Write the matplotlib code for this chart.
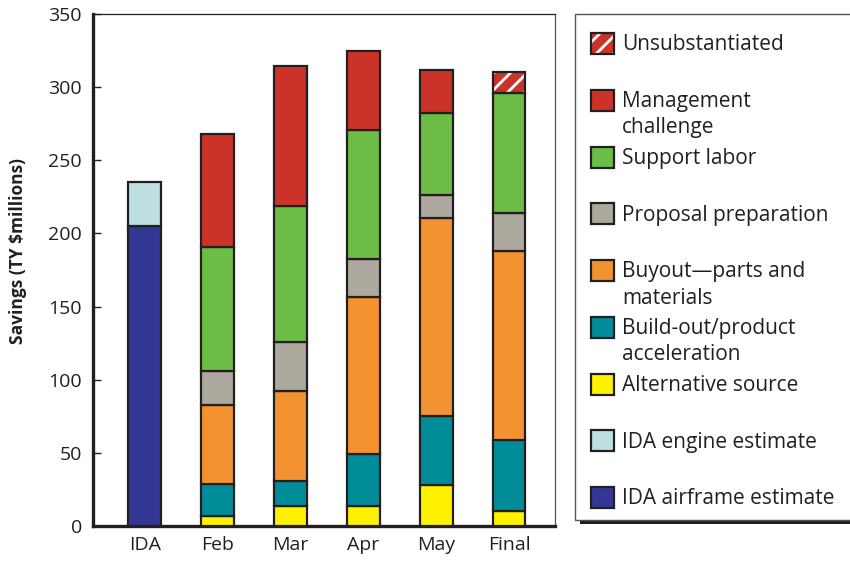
import numpy as np
import matplotlib
matplotlib.use("Agg")
import matplotlib.pyplot as plt
from matplotlib.patches import Rectangle

plt.rcParams['font.family'] = ['Open Sans', 'DejaVu Sans']
plt.rcParams['hatch.linewidth'] = 2.0

# data (TY $millions)
months = ["IDA", "Feb", "Mar", "Apr", "May", "Final"]
airframe = [205, 0, 0, 0, 0, 0]
engine = [30, 0, 0, 0, 0, 0]
alternative = [0, 7, 13.5, 14, 28, 10.5]
buildout = [0, 22, 17, 35.5, 47.5, 48.5]
buyout = [0, 54, 62, 107, 135, 129]
proposal = [0, 23, 33, 26, 15.5, 26]
support = [0, 85, 93, 88, 56, 82]
management = [0, 77, 96, 54, 30, 0]
unsubstantiated = [0, 0, 0, 0, 0, 14.5]

yticks = [0, 50, 100, 150, 200, 250, 300, 350]

# bottom to top
series = [
    ("IDA airframe estimate", airframe, "#323694", False),
    ("IDA engine estimate", engine, "#BEE0E3", False),
    ("Alternative source", alternative, "#FFF200", False),
    ("Build-out/product\nacceleration", buildout, "#008C99", False),
    ("Buyout\u2014parts and\nmaterials", buyout, "#F29230", False),
    ("Proposal preparation", proposal, "#ADA99F", False),
    ("Support labor", support, "#6BBD45", False),
    ("Management\nchallenge", management, "#CC3328", False),
    ("Unsubstantiated", unsubstantiated, "#CC3328", True),
]

edge = "#231F20"

fig = plt.figure(figsize=(8.5, 5.62), dpi=100)
ax = fig.add_axes([93 / 850, 36 / 562, 462 / 850, 512 / 562])

x = np.arange(len(months))
bottom = np.zeros(len(months))
for name, vals, col, hatched in series:
    vals = np.array(vals, dtype=float)
    m = vals > 0
    if hatched:
        ax.bar(x[m], vals[m], 0.45, bottom=bottom[m], color=col,
               edgecolor="white", hatch="//", linewidth=0, zorder=2)
        ax.bar(x[m], vals[m], 0.45, bottom=bottom[m], fill=False,
               edgecolor=edge, linewidth=1.6, zorder=3)
    else:
        ax.bar(x[m], vals[m], 0.45, bottom=bottom[m], color=col,
               edgecolor=edge, linewidth=1.6, zorder=3)
    bottom = bottom + vals

ax.set_xlim(-0.71, 5.63)
ax.set_ylim(0, 350)
ax.set_yticks(yticks)
ax.set_xticks(x)
ax.set_xticklabels(months)
ax.tick_params(axis='y', direction='in', length=6, width=1, pad=8,
               labelsize=14, colors="#231F20")
ax.tick_params(axis='x', length=0, pad=7, labelsize=14, colors="#231F20")
ax.set_ylabel("Savings (TY $millions)", fontsize=12.5, fontweight='bold',
              color="#231F20")
ax.yaxis.set_label_coords(-0.143, 0.537)

for s in ['left', 'bottom']:
    ax.spines[s].set_linewidth(2.4)
    ax.spines[s].set_color(edge)
ax.spines['top'].set_linewidth(0.9)
ax.spines['top'].set_color(edge)
ax.spines['right'].set_linewidth(0.9)
ax.spines['right'].set_color("#555555")

# legend box drawn in pixel coords
lax = fig.add_axes([0, 0, 1, 1])
lax.set_xlim(0, 850)
lax.set_ylim(562, 0)
lax.axis('off')
lax.add_patch(Rectangle((580, 18), 280, 506, facecolor="#231F20",
                        edgecolor="none"))
lax.add_patch(Rectangle((575, 14), 285, 506, facecolor="white",
                        edgecolor="#555555", linewidth=1))

ypos = 43
for name, vals, col, hatched in reversed(series):
    if hatched:
        lax.add_patch(Rectangle((591, ypos - 10), 23, 21, facecolor=col,
                                edgecolor="white", hatch="//", linewidth=0))
        lax.add_patch(Rectangle((591, ypos - 10), 23, 21, fill=False,
                                edgecolor=edge, linewidth=1.6))
    else:
        lax.add_patch(Rectangle((591, ypos - 10), 23, 21, facecolor=col,
                                edgecolor=edge, linewidth=1.6))
    for i, line in enumerate(name.split("\n")):
        lax.text(622, ypos + 7.5 + i * 26, line, fontsize=15,
                 va='baseline', ha='left', color="#231F20")
    ypos += 56.75

fig.savefig("out.png", dpi=100)
